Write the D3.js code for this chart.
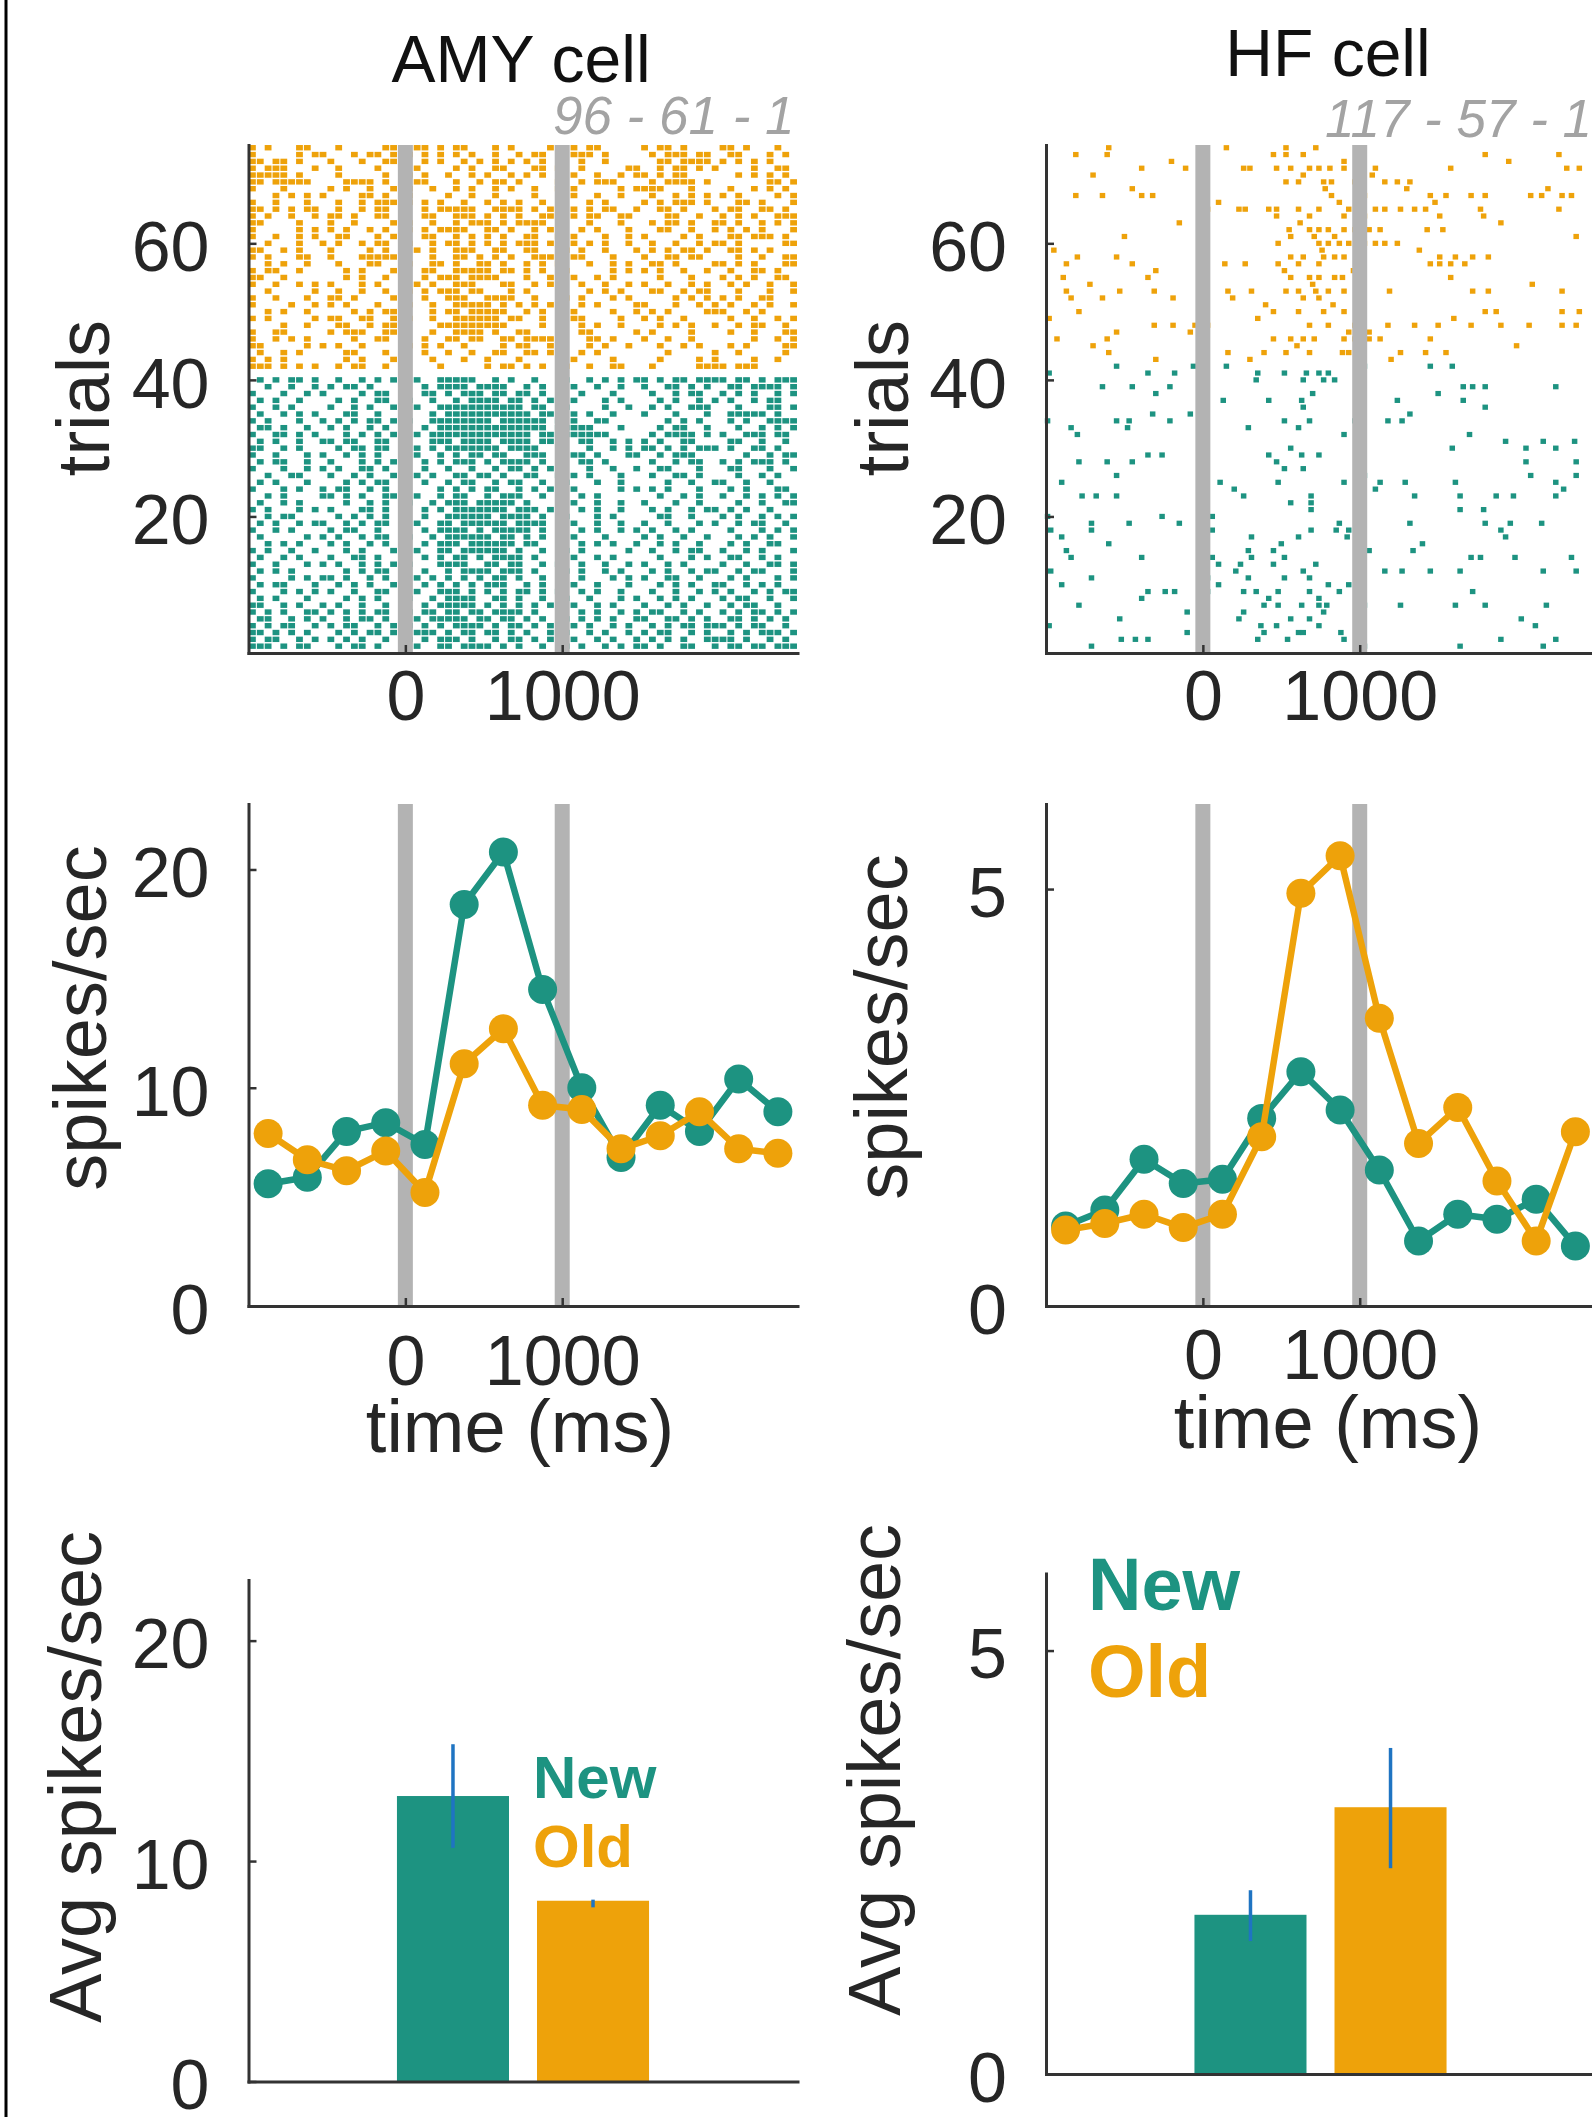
<!DOCTYPE html>
<html lang="en">
<head>
<meta charset="UTF-8">
<title>AMY and HF cell responses</title>
<script src="https://d3js.org/d3.v7.min.js"></script>
<style>
  body { margin: 0; background: #fff; }
  svg { display: block; font-family: "Liberation Sans", Arial, sans-serif; }
  .axis path { stroke: #333; stroke-width: 3; stroke-linecap: square; }
  .axis line { stroke: #333; stroke-width: 2.5; }
  .axis text { font-size: 70px; fill: #262626; font-family: "Liberation Sans", Arial, sans-serif; }
  .lbl { font-size: 74px; fill: #262626; }
</style>
</head>
<body>
<svg width="1592" height="2117"></svg>
<script>
// ---- data ----
const timeTicks = [0, 1000];
const stimLines = [0, 1000];
const binCenters = [-875, -625, -375, -125, 125, 375, 625, 875, 1125, 1375, 1625, 1875, 2125, 2375];

const amyNewRate = [5.6, 5.9, 8.0, 8.4, 7.4, 18.4, 20.8, 14.5, 10.0, 6.8, 9.2, 8.0, 10.4, 8.9];
const amyOldRate = [7.9, 6.7, 6.2, 7.1, 5.2, 11.1, 12.7, 9.2, 9.0, 7.2, 7.8, 8.9, 7.2, 7.0];
const hfNewRate = [0.96, 1.15, 1.76, 1.47, 1.52, 2.25, 2.81, 2.35, 1.63, 0.78, 1.10, 1.04, 1.28, 0.72];
const hfOldRate = [0.91, 0.99, 1.10, 0.94, 1.10, 2.03, 4.95, 5.40, 3.45, 1.95, 2.38, 1.50, 0.78, 2.09];

const barNames = ["New", "Old"];
const barPos = [1, 2];
const amyBarMean = [12.95, 8.2];
const amyBarLo = [10.6, 7.9];
const amyBarHi = [15.3, 8.25];
const hfBarMean = [1.88, 3.15];
const hfBarLo = [1.57, 2.43];
const hfBarHi = [2.17, 3.85];

const amyCounts = "96 - 61 - 1";
const hfCounts = "117 - 57 - 1";

// AMY raster, 50 ms bins from -1000 ms, 'o' = spike; old trials 74..42, new trials 40..1 (top row first)
const amyOldRows = [
  "o.o...oo.. .o.....oo. .oo.o.oo.. .o.o....o. .o.oo..... o.oo.o.... oo.o...o..",
  "o.....o.oo ...o.oo.o. o.o.o.o.o. .o..o.oo.. .ooo.o.... .o.ooo.oo. .oo...o.o.",
  "oo.oo.o... o...o..oo. ..o.o..o.o .o.o.o.o.. ..o..o.... ..oo.oooo. o.o.o.o...",
  "o.ooo...o. .o....o..o .o....o.o. .oo...oo.o ..o.....oo ..o.oo.o.o ....o..oo.",
  "ooooo.o... .o.....o.. o.o..o..o. o..o.o.o.. .o..o..o.o o.o.oo.... ..o.o.o.o.",
  "oo.ooooo.. ..oooo.o.. .oo...o..o .oo.o....o ..o.ooo... .o.oooo.o. ......oo.o",
  "o...o..... o.o..o..oo o..o..o.o. .o.o..o..o .o.....o.o ooo...o... .o..o.o.o.",
  "...o.o.o.o ....oo.o.o o....o..o. .o....o... .o..o..o.. .o..o.o.o. o.o....o.o",
  "o..o...o.. .o..o.ooo. o.o.o..o.. o.o.o..o.. ...o.o.... o.o.ooo.o. ..oo.o...o",
  "oo.o.o.oo. .o..o.oo.o ..o.ooooo. .oooo.o.oo .o.o.oo..o ..oo.o...o .oo..oo.o.",
  "o.o..o..o. oo.o..oo.o ..oo..ooo. o.o.o..ooo .o.oo..oo. ...oo..o.. o.o.o..ooo",
  "oo....o... o..o....o. o..o..o.oo o.o.oooo.. ...o...o.. .o.oo.o..o o.o..o.o.o",
  "o.....o.o. o.o..o.o.. o.o.oooo.. oo.o..o.o. ..o.o...o. ..oo..o..o .o.o.o...o",
  "o..o..o.o. .oo...o.o. ..oo..o.o. o.o..oo..o .o...o..o. o....o.o.. .oo.ooo.o.",
  "..o...o..o .o..o.oo.o o..o.oo.o. o.o.ooo.o. .o.o.o..o. .o..o..o.o o.o.....oo",
  "oo..o.o... o....o.o.. .o.o..ooo. .oo..oo... o.o..o...o .o.o.oo.o. .oo.o.o...",
  "o.o...oo.. o...ooooo. ...o..oo.o .o.o..oooo .oo...o... o..oo.oo.. ..o..o..oo",
  "..o.o..o.. .o...oo..o o..oo.o..o o.o..o.o.o ...o..o.o. .oo.o....o o.o.o...oo",
  "o.oo..o... ..o.o...oo ..oo..oooo o.oo.o.o.. o.....o.o. o.o..o..o. .o..oo.o..",
  "oo..o..... ..o.o..o.. ..o.ooo.oo oo...o..o. .o..o.o... ..o...o... o.o.o..oo.",
  "o..o..o.o. o...o.o..o .o.o..ooo. ..oo..o.o. ..o..o..o. o..o..o.o. .o.o..o..o",
  "..o.....o. .o..o..o.o o.o.ooo.oo ...o.o.... ...o.o.o.. .oo..o.oo. ..o...o..o",
  "o..o...o.. oo.o....o. ..o..ooo.. oooo..o... o.o...o.o. ....o.o.o. o.o..oo...",
  "o....o..o. o.o...o..o o..o..oooo o.o.o.o.o. ..o.o....o o...o..o.o .o..o.o..o",
  "..o.o..o.. ...o.o.oo. ...o.oo.oo ooo..o.o.. .o....o..o .o.o....oo o..o.o....",
  "o.o.....o. oo..oo..o. o..o..oooo oo.oo..o.. .oo....o.. o.o..o.... .o..o..o.o",
  "....o..o.. .oo..o.oo. ....oooooo ooo....o.. ..o.o..o.. ..o.o.o..o ..o.oo..o.",
  "o..oo..... o.ooo..ooo ...o..oooo .o..oo.... ..oo.....o .o....o... .o..o...oo",
  "o..o.o.o.. ...o..oo.. ..o..oo.oo ..oo.oooo. ...oo.o... o..o..o... ....o..o.o",
  "oo.....o.o .o..o..... o.o.o..o.. ..o.oo..o. ...o.o..o. ..o..o.o.. .o.o....oo",
  ".o..o.o... ..oo...o.o ..o..o..o. .oo..oo.o. ..o.o..... ...o.....o ..o.....o.",
  "o.o.o..... ..o.o...o. ...o...o.. o...o..... .o....o... ..o....o.o ....o..o..",
  "ooo.o.o.o. .o.oo..o.o ....o..... o.oo.o.o.. o..o..oo.. .o.....ooo o.ooo....."
];
const amyNewRows = [
  ".o.o.oo.o. .o..o.o.o. .o..ooooo. .o.o..o... o..o.o.o.o o.o.oo.ooo o.oo.o.ooo",
  "..o..o..o. o.oo.o...o ..o.oooo.o ooo..o.o.. .o..o..o.. o..oo.o.o. .oo.oooo.o",
  "o...o..o.o ....o.oo.o ..oo.o.ooo .oo.oo.o.. ..o...o... .o..o.oo.. o.o.o..o.o",
  ".o.o..o... .o.o..oo.. o..o..o.oo oo.oo.o.oo .o...o.o.. ..o.o..o.o .o..o.oo..",
  "o..o.o.... o..o.o..o. .o..oooooo ooooo.oo.. o....o..o. .o.o..ooo. ..o...oo.o",
  ".o..o.o.o. ..oo..o..o ...o.ooooo oooooo.oo. .o.o..o... o...o...o. .ooooo.o..",
  "o.o...o..o .o.o.oo.oo o..ooooooo o.oooooo.o .o..oo.... ...o.o.o.. .o.o..oooo",
  ".oo.o..o.. o.o..o.o.o ..o.oooooo oooooooo.o oooo...o.. ..o.oo..o. ..o..o.o.o",
  "o..oo.o.o. ..o.o.o.oo .o.ooooooo oooooo.ooo oooooo.... .o.oooo.o. o..ooo.oo.",
  ".o.o..o..o o.oo..oo.. ...ooo.ooo o.oooo.oo. ..oo..o.o. o.o..oo... .oo..o..o.",
  "oo..o.o... .o.oo.oo.o .o.o.ooooo oo.oooo... ...o..o.o. oo.o.o.ooo .o..oo.o..",
  "o..o...o.o ..o.o.o..o .o..o.o.oo .oo..ooo.. .oo.o...oo ..o.ooo... ...o..o.oo",
  ".o.oo..o.. o...o.o.o. ..o.o.ooo. o.oooo.o.. ..oo.o.... .o..o.oo.. o.o.ooo.o.",
  "o...o..o.o .o..oo.o.. ..o..o..o. .o.oo.o.o. ...o..o..o ..oo...o.. .oo...o..o",
  "..o..oo... o..o.o..o. .o.o..oo.o o.o..oo..o .o.o...o.. .o..oo.o.. ..o..o.o..",
  ".o.o...o.. ..o.o.oo.o ..o..o.oo. .o.oo..o.. o...o..o.. ...o..o..o o..o..o...",
  "o...o.o..o .oo..o.o.. ....o.o.o. oo..o.o.o. .o.....o.o .o.o...o.. .o.o...oo.",
  "..o.o....o o.o.o..oo. .o..o.oo.. o.ooo..o.. ..o.o..... ..o..o.o.. o..o.o.o.o",
  ".o..o.o... ..o..o.o.o o..o.ooo.o oooo.o.... .o..o..o.. o...o..o.. ..o..o..oo",
  "o.o...o.o. o...oo.o.. ..o.o.oooo ooo.ooo.o. ..o.o..o.. .o.o..o.oo .o.o..o...",
  "..o.oo.... .o.o.o.o.o ..o..ooooo o.oooo.o.. o...o.o... ..oo..o... o.o..o.o.o",
  ".o.o..o.oo ..o.o.oo.. .o..oo.ooo ooo.oooo.. .o..o..o.. o..o...o.o ..o.oo..o.",
  "o..o.o.... o.oo..o..o ..o.oooo.o .ooooo.o.. ..o.o..o.o .o..o.o... .o...o.o.o",
  ".o.....o.o .o..o.oo.. o..o.ooooo o.oo.o.o.. .o...o.... o.o..o..o. ..o.o.o..o",
  "..o.o.o... o.o..o.o.o ..o.ooo.oo oooo.oo... ..o.o.o..o ..o.o..o.. .o.o..oo..",
  "o.o..o..o. ..o.o...oo .o..oo.ooo ooo.o..o.. o.o.....o. .o..o.oo.. o..o.o...o",
  ".o..o.o... o..oo.o... ..o.o.oo.o .oooo.o... .o..o.o... ..o...o.o. .oo..o.o..",
  "o..o...o.o .o..o.o.o. o...oooo.. oo.oo..o.o ..o..o..o. o..o.o.... o..o..oo.o",
  ".o.o.o.... ..o.o.oo.o ..o..o.ooo o.ooo.o... o.o..o.o.. .o.o..o.oo ..o.oo...o",
  "o....o.o.o o.o..o.o.. .o.o.o.o.o .oo.o..o.. ..o...o.o. o..oo..o.. .o.o...o.o",
  ".o.oo...o. .o.o.o..oo ..o.o.o.o. ooo..o.o.. .o..o...o. ..o.o.o..o o..o.o.o..",
  "o...o.o.o. o..o..oo.o .o..ooo.o. o.o.oo.o.o ..o.o..o.. .o..o..o.o .o..o.o.oo",
  ".o.o...o.. ..o.o.o..o o..o.oooo. .oo.o..o.. o..o...o.o ..o.o.o... o.oo..o..o",
  "oo..o.o..o .o..o..o.o ..o.ooooo. o.o.o.o.o. .o..o.o... o..o.o..o. .o.oo..o..",
  "o.o.o..oo. o.o.o.oo.. o.oo.oo.oo .oooo.o... ..o.o..o.o .oo..o.o.. o.o.oo.o.o",
  ".oo..o.o.o ..o.oo.o.o .o.ooooo.o o.oo.o.o.. o.o.o.o..o o..oo.o.o. .oo.o.o.o.",
  "o.o.oo..o. o.oo..o.o. o.o.o.oooo .o.oo.o.o. .o.o..o.o. .o.o.oo.oo o.o.oo..o.",
  "oo.o.o.o.. .o.o.oo.oo .ooo.o.oo. oo.o.o..oo o..o.o..o. o.oo..o.o. .o.o.ooo.o",
  "o.oo..o.o. o.o.o..o.o o.o.ooo.o. .o.oo.o.o. .o..o.o..o .o.o.o..oo oo.o..o.o.",
  "ooo.o.oo.. .o.oo.o..o .o..oo.ooo o.o.o..o.. o.o..o.o.o o.o..oo..o .oo.oo.ooo"
];

// HF raster, spike times (ms); old trials 74..43, new trials 42..1 (top row first)
const hfOldSpikes = [
  [-600, 150, 530, 720],
  [-810, -610, 450, 530, 640, 1800, 2270],
  [-200, 900, 1950],
  [-390, -110, 260, 300, 470, 560, 680, 740, 810, 900, 1000, 1100, 1580, 2320, 2400],
  [-700, 640, 1080],
  [530, 610, 770, 820, 970, 1160, 1240, 1320],
  [-450, 780, 1300, 2200],
  [-810, -640, -390, -320, 820, 1030, 1450, 1550, 1710, 1800, 2090, 2160, 2290, 2350],
  [100, 870, 1480],
  [30, 230, 270, 420, 470, 610, 740, 930, 1000, 1100, 1160, 1260, 1350, 1420, 1770, 2270],
  [470, 680, 900, 1030, 1510, 1790],
  [-150, 620, 1020, 1900],
  [550, 680, 740, 800, 900, 970, 1060, 1130, 1430, 1530],
  [-500, 560, 710, 840, 1000, 2380],
  [480, 740, 800, 870, 930, 1030, 1100, 1160, 1240],
  [-950, 760, 1380],
  [-800, -550, 560, 640, 770, 840, 900, 1510, 1610, 1720, 1820],
  [-870, -450, 140, 270, 480, 610, 740, 1450, 1510, 1580, 1670],
  [-300, 520, 960],
  [-890, -350, 560, 680, 740, 840, 890, 1580],
  [-720, 700, 2100],
  [-870, -530, -310, 160, 310, 530, 610, 720, 800, 900, 1190, 1720, 1820, 2290],
  [-840, -640, -190, 190, 640, 740],
  [400, 830],
  [-790, 450, 610, 770, 900, 1800, 1870, 2290, 2400],
  [-980, 350, 1600],
  [-310, -190, -50, 30, 680, 800, 970, 1180, 1350, 1500, 1710, 1900, 2080, 2290, 2380],
  [-550, -80, 0, 930, 1060],
  [-930, -610, 450, 560, 640, 710, 900, 970, 1060, 1130, 1450],
  [-700, 600, 2000],
  [-600, -20, 160, 390, 530, 680, 890, 930, 1000, 1260, 1420, 1550],
  [-300, 300, 1000, 1200]
];
const hfNewSpikes = [
  [-550, -60, 150, 1030, 1450, 1590],
  [-980, -350, -180, 350, 520, 660, 740, 800],
  [340, 640, 770, 840],
  [-640, -450, -210, 1660, 1720, 1800, 2250],
  [-300, 700, 1500],
  [130, 420, 630, 1240, 1660],
  [640, 1800],
  [-320, -80, 980, 1320],
  [-990, -550, -470, -210, 0, 520, 680, 970, 1180, 1270],
  [-840, -480, 290, 610],
  [-800, 900, 1700],
  [-20, 1930, 2170, 2370],
  [0, 560, 1590, 2060, 2250],
  [-350, -260, 420, 630, 740],
  [-790, -610, -450, 470, 1000, 2060, 2380],
  [-20, 520, 640],
  [-550, 1030, 2090, 2380],
  [-900, 110, 480, 900, 1130, 1290, 1610, 2250],
  [200, 1100, 2300],
  [-770, -680, -550, 260, 690, 1000, 1350, 1640, 1870, 1980, 2250],
  [560, 690, 1000],
  [690, 1640, 1790],
  [-990, -260, 60],
  [-710, -470, -150, 870, 1320, 1800, 1960, 2160],
  [-970, -710, 60, 690, 850, 930, 1900],
  [-900, 310, 610, 920, 1000, 1930],
  [-600, 500, 1400],
  [-870, 290, 450, 1060, 1340],
  [-840, -390, 60, 310, 520, 1710, 1770, 1990, 2350],
  [100, 240, 450, 720],
  [-970, 210, 640, 1160, 1270, 1450, 1640, 2170, 2380],
  [-710, 30, 290, 520, 680],
  [-900, 100, 800, 930],
  [-350, -240, -180, 30, 260, 340, 480, 680, 870, 980, 1720],
  [-390, 420, 740, 1000],
  [-790, 390, 480, 630, 740, 790, 1030, 1260, 1610, 1800, 2190],
  [-100, 260, 770],
  [-530, 230, 560, 680, 2030],
  [-980, 370, 470, 740, 980, 2120],
  [-100, 390, 610, 640, 880],
  [-520, -430, -350, 350, 540, 900, 1900, 2250],
  [-710, 0, 1030, 1640, 2170]
];

// ---- styling ----
const teal = "#1d9381", orange = "#eea20a", stimGray = "#b3b3b3", errBlue = "#1f74c2";
const binMs = 50, tStart = -1000;
const intFmt = d3.format("d");

function rowTimes(s) {
  const out = [];
  s.split(" ").forEach((grp, gi) => {
    for (let k = 0; k < Math.min(grp.length, 10); k++) {
      if (grp[k] === "o") out.push(tStart + binMs * (gi * 10 + k + 0.5));
    }
  });
  return out;
}

const svg = d3.select("svg");
svg.append("rect").attr("width", 1592).attr("height", 2117).attr("fill", "#fff");
svg.append("line").attr("x1", 6).attr("x2", 6).attr("y1", 0).attr("y2", 2117)
  .attr("stroke", "#000").attr("stroke-width", 3);

const panelW = 549;

function drawAxes(sc, yTicks, xTicks, xPad) {
  const g = svg.append("g").attr("class", "axis");
  g.append("g").attr("transform", `translate(${sc.x.range()[0]},0)`)
    .call(d3.axisLeft(sc.y).tickValues(yTicks).tickFormat(intFmt)
      .tickSizeInner(-8).tickSizeOuter(0).tickPadding(39))
    .selectAll("text").attr("dy", "0.39em");
  g.append("g").attr("transform", `translate(0,${sc.y.range()[0]})`)
    .call(d3.axisBottom(sc.x).tickValues(xTicks).tickFormat(intFmt)
      .tickSizeInner(-8).tickSizeOuter(0).tickPadding(xPad));
}

function stimBars(sc) {
  svg.append("g").selectAll("rect").data(stimLines).join("rect")
    .attr("x", d => sc.x(d) - 7.5).attr("width", 15)
    .attr("y", sc.y.range()[1]).attr("height", sc.y.range()[0] - sc.y.range()[1])
    .attr("fill", stimGray);
}

function spikes(sc, rows, topTrial, color, w, h) {
  const pts = [];
  rows.forEach((ts, i) => ts.forEach(t => pts.push({t, trial: topTrial - i})));
  svg.append("g").selectAll("rect").data(pts).join("rect")
    .attr("x", d => sc.x(d.t) - w / 2).attr("y", d => sc.y(d.trial) - h / 2)
    .attr("width", w).attr("height", h).attr("fill", color);
}

function rotLabel(x, y, text) {
  svg.append("text").attr("class", "lbl").attr("transform", `translate(${x},${y}) rotate(-90)`)
    .attr("text-anchor", "middle").text(text);
}

// ---- row 1: rasters ----
[
  {x0: 248.5, old: amyOldRows.map(rowTimes), neu: amyNewRows.map(rowTimes), oldTop: 74, newTop: 40, w: 6.8, h: 5.4,
   title: "AMY cell", tx: 521, ty: 82, counts: amyCounts, cy: 134, lx: 109},
  {x0: 1046, old: hfOldSpikes, neu: hfNewSpikes, oldTop: 74, newTop: 42, w: 5.5, h: 5.2,
   title: "HF cell", tx: 1328, ty: 76, counts: hfCounts, cy: 137, lx: 908}
].forEach(p => {
  const sc = {
    x: d3.scaleLinear().domain([-1000, 2500]).range([p.x0, p.x0 + panelW]),
    y: d3.scaleLinear().domain([0, 74.4]).range([653, 145])
  };
  spikes(sc, p.neu, p.newTop, teal, p.w, p.h);
  spikes(sc, p.old, p.oldTop, orange, p.w, p.h);
  stimBars(sc);
  drawAxes(sc, [20, 40, 60], timeTicks, 17);
  svg.append("text").attr("x", p.tx).attr("y", p.ty).attr("text-anchor", "middle")
    .attr("font-size", 66).attr("fill", "#111").text(p.title);
  svg.append("text").attr("x", p.x0 + panelW - 3).attr("y", p.cy).attr("text-anchor", "end")
    .attr("font-size", 53).attr("font-style", "italic").attr("fill", "#a3a3a3").text(p.counts);
  rotLabel(p.lx, 398, "trials");
});

// ---- row 2: firing rate over time ----
[
  {x0: 248.5, yMax: 23, yTicks: [0, 10, 20], neu: amyNewRate, old: amyOldRate, xPad: 29, lx: 106, ly: 1018, tx: 520, ty: 1452},
  {x0: 1046, yMax: 6.02, yTicks: [0, 5], neu: hfNewRate, old: hfOldRate, xPad: 23, lx: 907, ly: 1027, tx: 1328, ty: 1448}
].forEach(p => {
  const sc = {
    x: d3.scaleLinear().domain([-1000, 2500]).range([p.x0, p.x0 + panelW]),
    y: d3.scaleLinear().domain([0, p.yMax]).range([1306, 804])
  };
  stimBars(sc);
  [[p.neu, teal], [p.old, orange]].forEach(([vals, col]) => {
    const pts = binCenters.map((t, i) => ({t, v: vals[i]}));
    svg.append("path").datum(pts)
      .attr("fill", "none").attr("stroke", col).attr("stroke-width", 6.5).attr("stroke-linejoin", "round")
      .attr("d", d3.line().x(d => sc.x(d.t)).y(d => sc.y(d.v)));
    svg.append("g").selectAll("circle").data(pts).join("circle")
      .attr("cx", d => sc.x(d.t)).attr("cy", d => sc.y(d.v)).attr("r", 14.5).attr("fill", col);
  });
  drawAxes(sc, p.yTicks, timeTicks, p.xPad);
  rotLabel(p.lx, p.ly, "spikes/sec");
  svg.append("text").attr("class", "lbl").attr("x", p.tx).attr("y", p.ty)
    .attr("text-anchor", "middle").attr("font-size", 76).text("time (ms)");
});

// ---- row 3: average rate bars ----
[
  {x0: 248.5, top: 1580, bottom: 2081.5, yMax: 22.75, yTicks: [0, 10, 20], mean: amyBarMean, lo: amyBarLo, hi: amyBarHi,
   lx: 101, ly: 1777, legX: 533, legY: [1798, 1867], legSize: 60},
  {x0: 1046, top: 1573.5, bottom: 2074, yMax: 5.91, yTicks: [0, 5], mean: hfBarMean, lo: hfBarLo, hi: hfBarHi,
   lx: 900, ly: 1770, legX: 1088, legY: [1610, 1697], legSize: 74}
].forEach(p => {
  const sc = {
    x: d3.scaleLinear().domain([-0.46, 3.46]).range([p.x0, p.x0 + panelW]),
    y: d3.scaleLinear().domain([0, p.yMax]).range([p.bottom, p.top])
  };
  const bw = sc.x(0.8) - sc.x(0);
  const rows = barPos.map((pos, i) => ({pos, m: p.mean[i], lo: p.lo[i], hi: p.hi[i], col: i ? orange : teal}));
  svg.append("g").selectAll("rect").data(rows).join("rect")
    .attr("x", d => sc.x(d.pos) - bw / 2).attr("width", bw)
    .attr("y", d => sc.y(d.m)).attr("height", d => sc.y(0) - sc.y(d.m)).attr("fill", d => d.col);
  svg.append("g").selectAll("line").data(rows).join("line")
    .attr("x1", d => sc.x(d.pos)).attr("x2", d => sc.x(d.pos))
    .attr("y1", d => sc.y(d.lo)).attr("y2", d => sc.y(d.hi))
    .attr("stroke", errBlue).attr("stroke-width", 3.5);
  drawAxes(sc, p.yTicks, [], 0);
  rotLabel(p.lx, p.ly, "Avg spikes/sec");
  barNames.forEach((name, i) => {
    svg.append("text").attr("x", p.legX).attr("y", p.legY[i]).attr("font-size", p.legSize)
      .attr("font-weight", "bold").attr("fill", i ? orange : teal).text(name);
  });
});
</script>
</body>
</html>
